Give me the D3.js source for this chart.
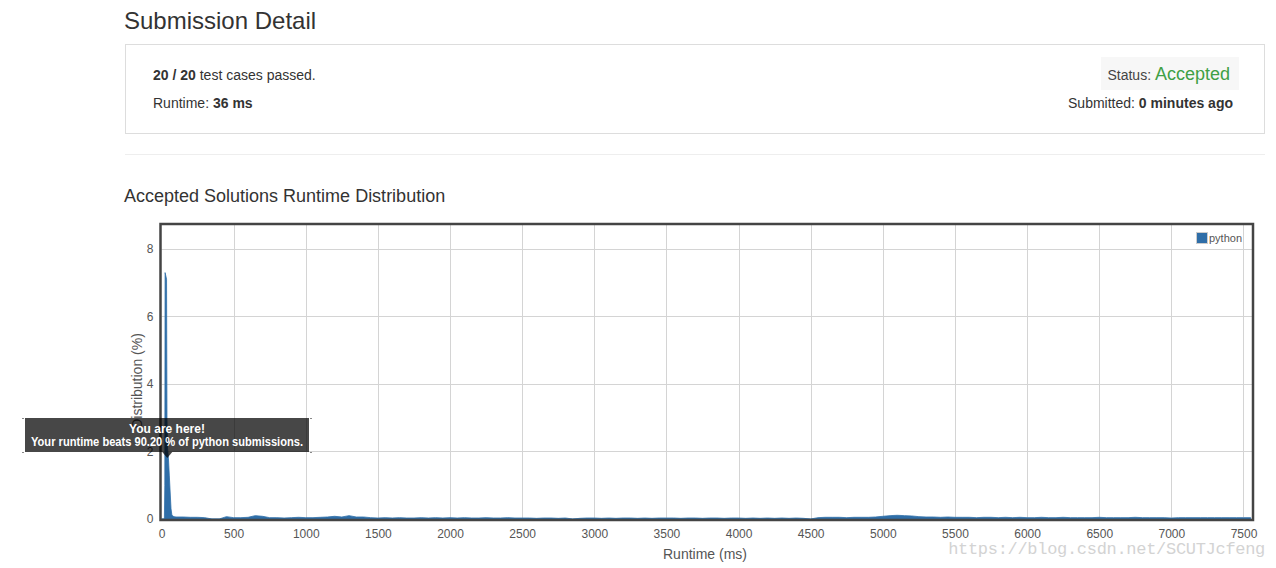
<!DOCTYPE html>
<html><head><meta charset="utf-8">
<script src="https://cdn.jsdelivr.net/npm/d3@7"></script>
<style>
html,body{margin:0;padding:0;background:#fff;}
svg{display:block;font-family:"Liberation Sans",Arial,sans-serif;}
</style></head>
<body>
<svg id="c" width="1276" height="568"></svg>
<script>
// ---- data ----
const seriesName = "python";
const spikeRuntime = [0, 20, 23, 25, 35, 38, 42, 48, 54, 60, 66, 72, 80, 90];
const spikeValues  = [0, 0, 1.0, 7.3, 7.1, 3.0, 2.1, 1.8, 1.3, 0.8, 0.3, 0.12, 0.08, 0.07];
const tailRuntime = [100,150,200,250,300,350,400,450,500,550,600,650,700,750,800,850,900,950,1000,1050,
 1100,1150,1200,1250,1300,1350,1400,1450,1500,1550,1600,1650,1700,1750,1800,1850,1900,1950,2000,2050,
 2100,2150,2200,2250,2300,2350,2400,2450,2500,2550,2600,2650,2700,2750,2800,2850,2900,2950,3000,3050,
 3100,3150,3200,3250,3300,3350,3400,3450,3500,3550,3600,3650,3700,3750,3800,3850,3900,3950,4000,4050,
 4100,4150,4200,4250,4300,4350,4400,4450,4500,4550,4600,4650,4700,4750,4800,4850,4900,4950,5000,5050,
 5100,5150,5200,5250,5300,5350,5400,5450,5500,5550,5600,5650,5700,5750,5800,5850,5900,5950,6000,6050,
 6100,6150,6200,6250,6300,6350,6400,6450,6500,6550,6600,6650,6700,6750,6800,6850,6900,6950,7000,7050,
 7100,7150,7200,7250,7300,7350,7400,7450,7500,7550];
const tailValues = [0.06,0.06,0.05,0.05,0.04,0,0,0.07,0.04,0.04,0.05,0.1,0.08,0.04,0.04,0.03,0.04,0.05,0.04,0.04,
 0.05,0.06,0.08,0.06,0.1,0.06,0.06,0.04,0.03,0.04,0.03,0.04,0.03,0.03,0.04,0.03,0.04,0.03,0.04,0.03,
 0.04,0.03,0.03,0.04,0.03,0.03,0.04,0.03,0.03,0.03,0.02,0.03,0.03,0.02,0.03,0,0.02,0.03,0.03,0.02,
 0.03,0.02,0.03,0.03,0.02,0.03,0.02,0.03,0.03,0.03,0.02,0.03,0.03,0.02,0.03,0.03,0.02,0.03,0.03,0.02,
 0.03,0.02,0.03,0.02,0.03,0.02,0.03,0.02,0,0.04,0.05,0.05,0.05,0.04,0.05,0.05,0.05,0.06,0.08,0.1,
 0.11,0.1,0.09,0.07,0.06,0.06,0.05,0.06,0.05,0.05,0.05,0.04,0.05,0.05,0.04,0.05,0.04,0.05,0.04,0.04,
 0.05,0.04,0.04,0.05,0.04,0.04,0.04,0.04,0.05,0.04,0.04,0.04,0.04,0.05,0.04,0.04,0.04,0.04,0.03,0.04,
 0.04,0.04,0.04,0.04,0.04,0.04,0.04,0.04,0.04,0.04];
const xTicks = [0,500,1000,1500,2000,2500,3000,3500,4000,4500,5000,5500,6000,6500,7000,7500];
const yTicks = [0,2,4,6,8];
const myRuntime = 40, myValue = 2.0;

// ---- layout ----
const svg = d3.select("#c");
const X0 = 161.5, X1 = 1252, Y0 = 519, Y1 = 225;
const x = d3.scaleLinear().domain([0, 7559]).range([X0, X1]);
const y = d3.scaleLinear().domain([0, 8.71]).range([Y0, Y1]);
const blue = "#2f6ea8";

// header
svg.append("text").attr("x",124).attr("y",29).attr("font-size",24).attr("fill","#333").text("Submission Detail");
svg.append("rect").attr("x",125.5).attr("y",44.5).attr("width",1139).attr("height",89)
  .attr("fill","none").attr("stroke","#ddd");
const t1 = svg.append("text").attr("x",153).attr("y",80).attr("font-size",14).attr("fill","#333");
t1.append("tspan").attr("font-weight","bold").text("20 / 20");
t1.append("tspan").text(" test cases passed.");
const t2 = svg.append("text").attr("x",153).attr("y",108).attr("font-size",14).attr("fill","#333");
t2.append("tspan").text("Runtime: ");
t2.append("tspan").attr("font-weight","bold").text("36 ms");
svg.append("rect").attr("x",1101).attr("y",57).attr("width",138).attr("height",33).attr("fill","#f7f7f7");
const t3 = svg.append("text").attr("x",1230).attr("y",80).attr("text-anchor","end").attr("fill","#333");
t3.append("tspan").attr("font-size",14).attr("fill","#444").text("Status: ");
t3.append("tspan").attr("font-size",18).attr("fill","#3fa046").text("Accepted");
const t4 = svg.append("text").attr("x",1233).attr("y",108).attr("text-anchor","end").attr("font-size",14).attr("fill","#333");
t4.append("tspan").text("Submitted: ");
t4.append("tspan").attr("font-weight","bold").text("0 minutes ago");
svg.append("line").attr("x1",125).attr("x2",1265).attr("y1",154.5).attr("y2",154.5).attr("stroke","#eee");
svg.append("text").attr("x",124).attr("y",202).attr("font-size",18).attr("fill","#333").text("Accepted Solutions Runtime Distribution");

// grid
const g = svg.append("g");
g.selectAll(".gx").data(xTicks.filter(d=>d>0)).join("line")
  .attr("x1",d=>Math.round(x(d))+0.5).attr("x2",d=>Math.round(x(d))+0.5)
  .attr("y1",Y1).attr("y2",Y0).attr("stroke","#d4d4d4");
g.selectAll(".gy").data(yTicks.filter(d=>d>0)).join("line")
  .attr("x1",X0).attr("x2",X1)
  .attr("y1",d=>Math.round(y(d))+0.5).attr("y2",d=>Math.round(y(d))+0.5).attr("stroke","#d4d4d4");

// area
const pts = spikeRuntime.map((r,i)=>[r,spikeValues[i]]).concat(tailRuntime.map((r,i)=>[r,tailValues[i]]));
const area = d3.area().x(d=>x(d[0])).y0(y(0)).y1(d=>y(d[1])).curve(d3.curveLinear);
svg.append("path").datum(pts).attr("d",area).attr("fill",blue).attr("stroke",blue).attr("stroke-width",0.8);

// frame
svg.append("rect").attr("x",X0-1).attr("y",Y1-1).attr("width",X1-X0+2).attr("height",Y0-Y1+2)
  .attr("fill","none").attr("stroke","#444").attr("stroke-width",2.5);

// axes
const xa = svg.append("g").attr("transform",`translate(0,${Y0})`)
  .call(d3.axisBottom(x).tickValues(xTicks).tickFormat(d3.format("d")).tickSize(0).tickPadding(10));
xa.select(".domain").remove();
xa.selectAll("text").attr("font-size",12).attr("fill","#555").attr("font-family","Liberation Sans, Arial");
const ya = svg.append("g").attr("transform",`translate(${X0-2},0)`)
  .call(d3.axisLeft(y).tickValues(yTicks).tickFormat(d3.format("d")).tickSize(0).tickPadding(6));
ya.select(".domain").remove();
ya.selectAll("text").attr("font-size",12).attr("fill","#555").attr("font-family","Liberation Sans, Arial");

svg.append("text").attr("x",705).attr("y",559).attr("text-anchor","middle").attr("font-size",14)
  .attr("fill","#555").text("Runtime (ms)");
svg.append("text").attr("transform","translate(142,381) rotate(-90)").attr("text-anchor","middle")
  .attr("font-size",14).attr("fill","#555").text("Distribution (%)");

// legend
svg.append("rect").attr("x",1196.5).attr("y",232.5).attr("width",11).attr("height",11)
  .attr("fill",blue).attr("stroke","#ccc");
svg.append("text").attr("x",1209).attr("y",242).attr("font-size",11).attr("fill","#555").text(seriesName);

// tooltip
const ax = x(myRuntime), ay = y(myValue);
const tb = {x:25, y:418, w:284, h:34};
const tt = svg.append("g");
tt.append("rect").attr("x",tb.x).attr("y",tb.y).attr("width",tb.w).attr("height",tb.h)
  .attr("fill","#000").attr("fill-opacity",0.72);
tt.append("path").attr("d",`M${ax-5},${tb.y+tb.h} L${ax+5},${tb.y+tb.h} L${ax},${tb.y+tb.h+6}Z`)
  .attr("fill","#000").attr("fill-opacity",0.72);
[[tb.x-3,tb.y],[tb.x+tb.w+1,tb.y],[tb.x-3,tb.y+tb.h],[tb.x+tb.w+1,tb.y+tb.h]].forEach(p=>{
  tt.append("rect").attr("x",p[0]).attr("y",p[1]).attr("width",2).attr("height",1).attr("fill","#888");
});
tt.append("text").attr("x",167).attr("y",433).attr("text-anchor","middle").attr("font-size",12)
  .attr("font-weight","bold").attr("fill","#fff").text("You are here!");
tt.append("text").attr("x",167).attr("y",446).attr("text-anchor","middle").attr("font-size",12)
  .attr("font-weight","bold").attr("fill","#fff")
  .attr("textLength",272).attr("lengthAdjust","spacingAndGlyphs")
  .text("Your runtime beats 90.20 % of python submissions.");

// watermark
svg.append("text").attr("x",1265).attr("y",554).attr("text-anchor","end").attr("font-size",17)
  .attr("font-family","Liberation Mono, monospace").attr("fill","#d3d3d3").attr("letter-spacing",-0.3)
  .text("https://blog.csdn.net/SCUTJcfeng");
</script>
</body></html>
